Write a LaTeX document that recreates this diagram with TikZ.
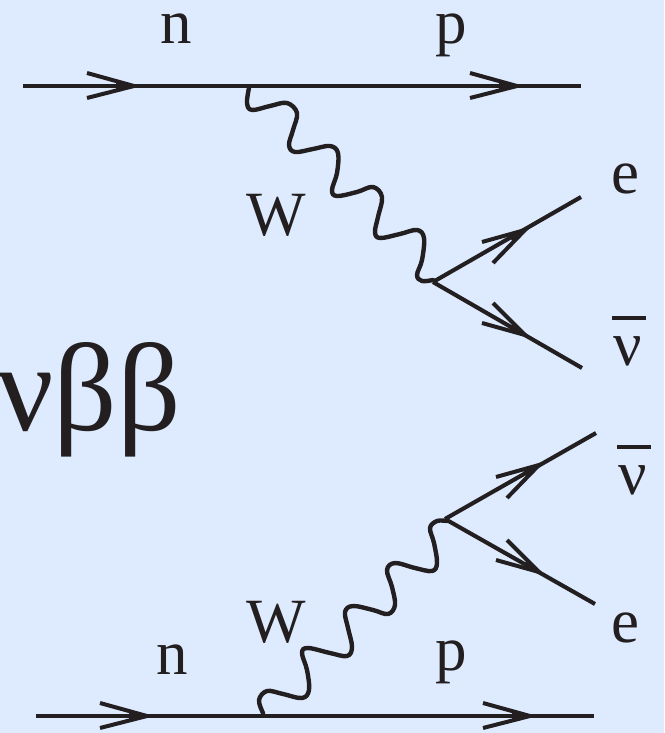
\documentclass[tikz,border=0pt]{standalone}
\usepackage{fontspec}
\setmainfont{Liberation Serif}
\usetikzlibrary{calc}
\definecolor{bgc}{HTML}{DEEBFF}
\definecolor{ink}{HTML}{231F20}
\tikzset{
  line/.style={draw=ink,line width=4.1pt},
  wave/.style={draw=ink,line width=4.4pt,line cap=round},
  barb/.style={draw=ink,line width=4pt,miter limit=20},
  lab/.style={text=ink,inner sep=0pt,font=\fontsize{63}{63}\selectfont,anchor=base},
}
\newcommand{\arrowhead}[3]{% tip, barb1, barb2
  \draw[barb] (#2) -- (#1) -- (#3);
  \fill[ink] (#1) -- ($(#2)!0.62!(#1)$) -- ($(#3)!0.62!(#1)$) -- cycle;
}
\begin{document}
\begin{tikzpicture}[x=1pt,y=-1pt]
\useasboundingbox (0,0) rectangle (664,733);
\fill[bgc] (0,0) rectangle (664,733);
% lines
\coordinate (t1) at (23,86);
\coordinate (t2) at (581,86);
\coordinate (b1) at (36,716);
\coordinate (b2) at (594,716);
\coordinate (v1) at (433,282);
\coordinate (v2) at (445,519);
\coordinate (e1) at (581,197);
\coordinate (n1) at (582,368);
\coordinate (n2) at (596,433);
\coordinate (e2) at (595,604);
\draw[line] (t1) -- (t2);
\draw[line] (b1) -- (b2);
\draw[line] (v1) -- (e1);
\draw[line] (v1) -- (n1);
\draw[line] (v2) -- (n2);
\draw[line] (v2) -- (e2);
% arrowheads
\arrowhead{134,86}{87,73}{87,98}
\arrowhead{517,86}{470,73}{470,98}
\arrowhead{147,716}{100,703}{100,728}
\arrowhead{530,716}{483,703}{483,728}
\arrowhead{525,230}{482,242}{493,263}
\arrowhead{525,335}{482,323}{493,303}
\arrowhead{539,465}{496,477}{507,498}
\arrowhead{539,572}{496,560}{507,540}
% W bosons
\draw[wave] plot[smooth,tension=0.6] coordinates {(249,88) (247,103) (252,110) (270,106) (287,103) (297,113) (293,130) (289,145) (295,152) (313,149) (330,146) (338,153) (337,173) (332,190) (337,196) (357,192) (373,187) (382,197) (378,217) (375,232) (380,238) (400,234) (417,230) (424,238) (422,260) (417,275) (422,281) (433,280)};
\draw[wave] plot[smooth,tension=0.6] coordinates {(263,713) (259,700) (267,691) (283,694) (302,698) (309,690) (307,670) (302,653) (308,648) (330,653) (347,656) (352,647) (348,628) (345,612) (353,606) (373,610) (388,614) (395,605) (392,587) (387,570) (395,563) (415,568) (432,571) (437,563) (434,543) (430,528) (437,521) (447,521)};
% labels
\node[lab] (ln1) at (176,44) {n};
\node[lab] (lp1) at (451,44) {p};
\node[lab] (lw1) at (276,235) {W};
\node[lab] (le1) at (625,193) {e};
\node[lab] (lv1) at (628,365) {ν};
\draw[ink,line width=4pt] (612,318) -- (646,318);
\node[lab] (lv2) at (633,494) {ν};
\draw[ink,line width=4pt] (617,447) -- (651,447);
\node[lab] (le2) at (625,642) {e};
\node[lab] (ln2) at (172,674) {n};
\node[lab] (lp2) at (451,670) {p};
\node[lab] (lw2) at (276,642) {W};
\node[lab,font=\fontsize{125}{125}\selectfont] (lb) at (89,430) {νββ};
\end{tikzpicture}
\end{document}
